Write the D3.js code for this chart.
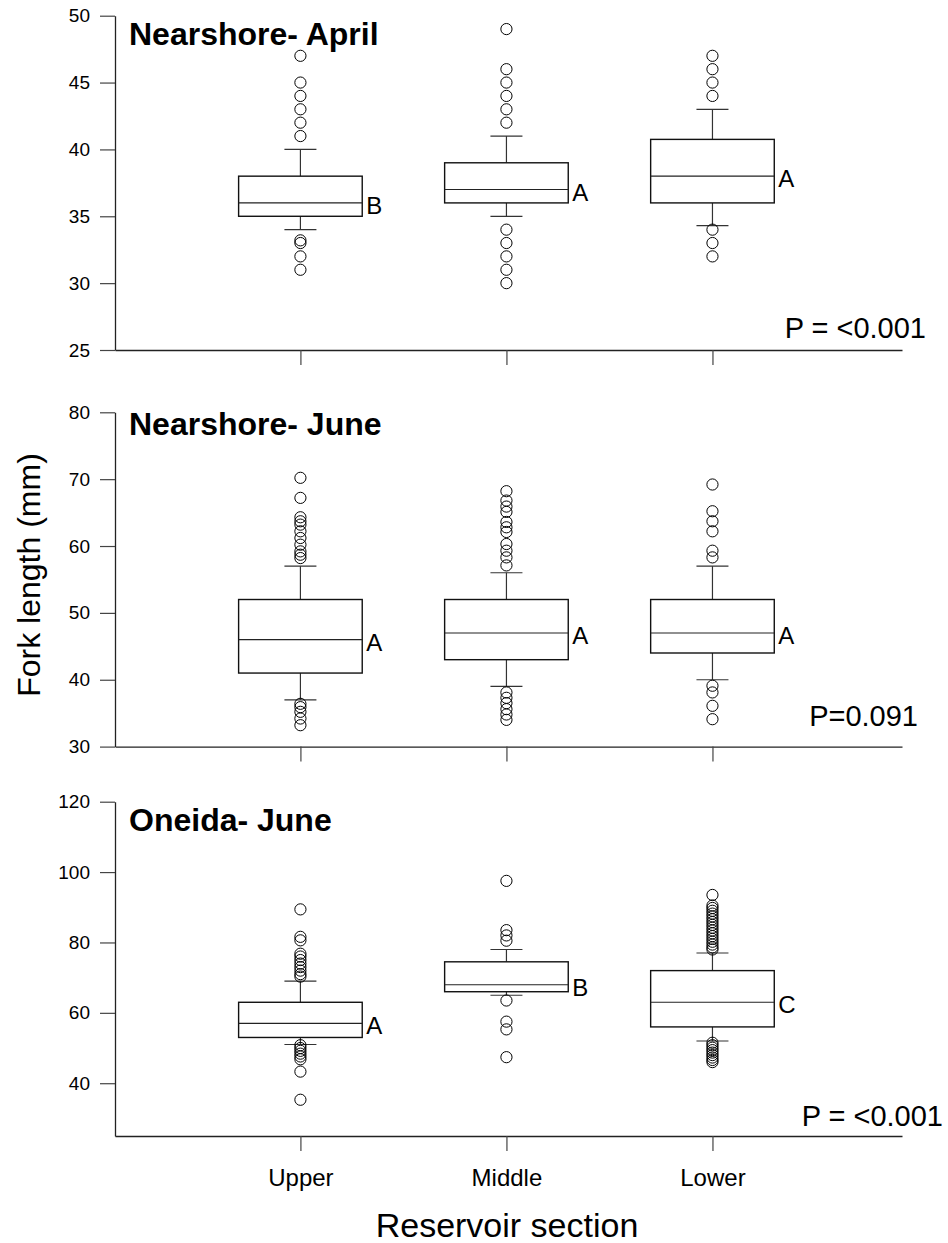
<!DOCTYPE html>
<html>
<head>
<meta charset="utf-8">
<script src="https://cdn.jsdelivr.net/npm/d3@7/dist/d3.min.js"></script>
<style>
  body { margin: 0; background: #fff; }
  svg { display: block; font-family: "Liberation Sans", Arial, sans-serif; }
</style>
</head>
<body>
<svg id="chart" width="948" height="1243"></svg>
<script>
"use strict";

/********/
/* data */
/********/

const sections = ["Upper", "Middle", "Lower"];
const panelTitles = ["Nearshore- April", "Nearshore- June", "Oneida- June"];
const pLabels = ["P = <0.001", "P=0.091", "P = <0.001"];
const yDomains = [[25, 50], [30, 80], [25, 120]];
const yTicks = [[25, 30, 35, 40, 45, 50], [30, 40, 50, 60, 70, 80], [40, 60, 80, 100, 120]];

// one row per panel, one value per section
const q1 = [[35, 36, 36], [41, 43, 44], [53, 66, 56]];
const medians = [[36, 37, 38], [46, 47, 47], [57, 68, 63]];
const q3 = [[38, 39, 40.75], [52, 52, 52], [63, 74.5, 72]];
const whiskerLow = [[34, 35, 34.3], [37, 39, 40], [51, 65, 52]];
const whiskerHigh = [[40, 41, 43], [57, 56, 57], [69, 78, 77]];
const letters = [["B", "A", "A"], ["A", "A", "A"], ["A", "B", "C"]];

const outliers = [
  [
    [47, 45, 44, 43, 42, 41, 33.2, 33, 32, 31],
    [49, 46, 45, 44, 43, 42, 34, 33, 32, 31, 30],
    [47, 46, 45, 44, 34, 33, 32],
  ],
  [
    [70.2, 67.2, 64.3, 63.7, 63.2, 62.2, 61.2, 60.2, 59.2, 58.7, 58.2, 36.4, 35.9, 35.2, 34.2, 33.2],
    [68.2, 66.8, 65.9, 65.1, 63.6, 62.8, 62.1, 60.3, 59.3, 58.3, 57.1, 38.1, 37.3, 36.5, 35.6, 34.8, 34],
    [69.2, 65.2, 63.7, 62.2, 59.3, 58.3, 39.1, 38.1, 36.1, 34.1],
  ],
  [
    [89.4, 81.6, 80.6, 76.8, 76, 75, 74, 73, 72, 71, 70.3, 50.8, 50, 49.2, 48.4, 47.6, 46.8, 43.3, 35.3],
    [97.5, 83.5, 82, 80.5, 63.5, 57.5, 55.3, 47.4],
    [93.5, 90.5, 89.8, 89, 88.2, 87.4, 86.6, 85.8, 85, 84.2, 83.4, 82.6, 81.8, 81, 80.2, 79.4, 78.6, 78,
     51.5, 50.8, 50.1, 49.4, 48.7, 48, 47.3, 46.6, 46],
  ],
];

/**********/
/* layout */
/**********/

const plotLeft = 115;
const plotRight = 902;
const plotHeight = 334.3;
const panelTops = [15.7, 412.3, 801.7];
const titleBaselines = [45, 435, 831];
const pPositions = [[926, 338], [918, 726], [943, 1126]];
const boxHalf = 0.3;
const capHalf = 16;

const svg = d3.select("#chart");

const x = d3.scaleLinear().domain([0.1, 3.92]).range([plotLeft, plotRight]);

panelTitles.forEach((title, p) => {
  const top = panelTops[p];
  const bottom = top + plotHeight;
  const y = d3.scaleLinear().domain(yDomains[p]).range([bottom, top]);
  const g = svg.append("g");

  // axes
  const yAxis = g
    .append("g")
    .attr("transform", `translate(${plotLeft},0)`)
    .call(d3.axisLeft(y).tickValues(yTicks[p]).tickSize(15).tickSizeOuter(0).tickPadding(10));
  yAxis.selectAll("text").attr("font-size", 19).attr("font-family", "Liberation Sans, Arial").attr("fill", "#000");

  const xAxis = g
    .append("g")
    .attr("transform", `translate(0,${bottom})`)
    .call(
      d3.axisBottom(x)
        .tickValues([1, 2, 3])
        .tickSize(15)
        .tickSizeOuter(0)
        .tickPadding(18)
        .tickFormat(d => (p === 2 ? sections[d - 1] : "")),
    );
  xAxis.selectAll("text").attr("font-size", 24).attr("font-family", "Liberation Sans, Arial").attr("fill", "#000");

  [yAxis, xAxis].forEach(a => {
    a.select(".domain").attr("stroke", "#222").attr("stroke-width", 1.3);
    a.selectAll(".tick line").attr("stroke", "#444").attr("stroke-width", 1.2);
  });

  // boxes
  sections.forEach((s, i) => {
    const cx = x(i + 1);
    const bx0 = x(i + 1 - boxHalf);
    const bx1 = x(i + 1 + boxHalf);

    g.append("line")
      .attr("x1", cx).attr("x2", cx)
      .attr("y1", y(whiskerHigh[p][i])).attr("y2", y(q3[p][i]))
      .attr("stroke", "#333").attr("stroke-width", 1.2);
    g.append("line")
      .attr("x1", cx).attr("x2", cx)
      .attr("y1", y(q1[p][i])).attr("y2", y(whiskerLow[p][i]))
      .attr("stroke", "#333").attr("stroke-width", 1.2);
    [whiskerHigh[p][i], whiskerLow[p][i]].forEach(v => {
      g.append("line")
        .attr("x1", cx - capHalf).attr("x2", cx + capHalf)
        .attr("y1", y(v)).attr("y2", y(v))
        .attr("stroke", "#333").attr("stroke-width", 1.2);
    });

    g.append("rect")
      .attr("x", bx0)
      .attr("y", y(q3[p][i]))
      .attr("width", bx1 - bx0)
      .attr("height", y(q1[p][i]) - y(q3[p][i]))
      .attr("fill", "#fff")
      .attr("stroke", "#111")
      .attr("stroke-width", 1.4);
    g.append("line")
      .attr("x1", bx0).attr("x2", bx1)
      .attr("y1", y(medians[p][i])).attr("y2", y(medians[p][i]))
      .attr("stroke", "#222").attr("stroke-width", 1.1);

    g.selectAll(null)
      .data(outliers[p][i])
      .enter()
      .append("circle")
      .attr("cx", cx)
      .attr("cy", d => y(d))
      .attr("r", 5.6)
      .attr("fill", "none")
      .attr("stroke", "#000")
      .attr("stroke-width", 1);

    g.append("text")
      .attr("x", bx1 + 4)
      .attr("y", y(medians[p][i]) + 11)
      .attr("font-size", 24)
      .text(letters[p][i]);
  });

  g.append("text")
    .attr("x", 129)
    .attr("y", titleBaselines[p])
    .attr("font-size", 32)
    .attr("font-weight", "bold")
    .text(title);

  g.append("text")
    .attr("x", pPositions[p][0])
    .attr("y", pPositions[p][1])
    .attr("text-anchor", "end")
    .attr("font-size", 29)
    .text(pLabels[p]);
});

svg.append("text")
  .attr("transform", "translate(40,575) rotate(-90)")
  .attr("text-anchor", "middle")
  .attr("font-size", 32)
  .text("Fork length (mm)");

svg.append("text")
  .attr("x", 507)
  .attr("y", 1237)
  .attr("text-anchor", "middle")
  .attr("font-size", 34)
  .text("Reservoir section");
</script>
</body>
</html>
